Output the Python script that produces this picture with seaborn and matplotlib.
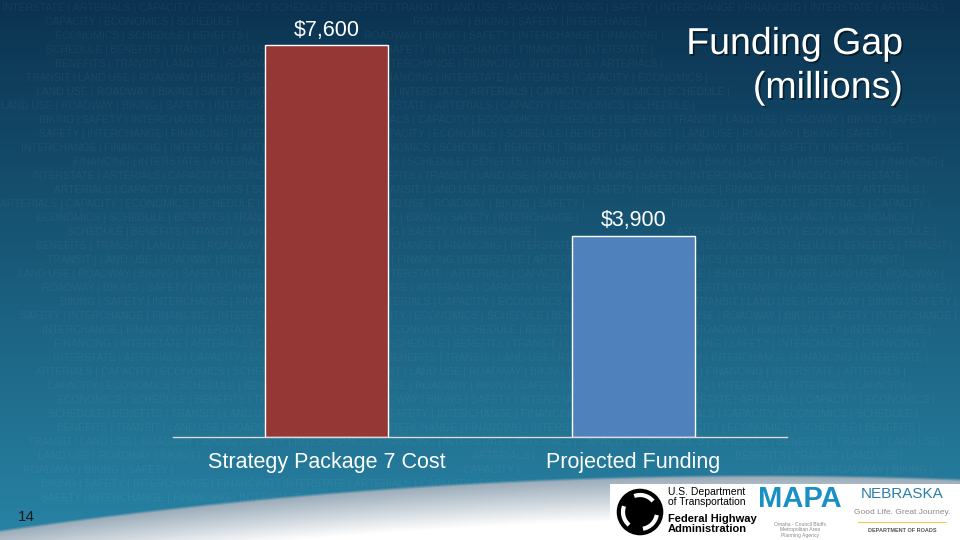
import numpy as np
import pandas as pd
import matplotlib.pyplot as plt
import matplotlib.patheffects as pe
from matplotlib.patches import Rectangle, Circle, Arc
import seaborn as sns

# data
categories = ["Strategy Package 7 Cost", "Projected Funding"]
values = [7600, 3900]
value_labels = ["$7,600", "$3,900"]
bar_colors = ["#953735", "#4f81bd"]

sns.set_theme(style="white")
plt.rcParams["font.family"] = ["Liberation Sans", "DejaVu Sans"]

fig = plt.figure(figsize=(9.6, 5.4), dpi=100)
renderer = fig.canvas.get_renderer()

# slide background (pixel coordinates)
bg = fig.add_axes([0, 0, 1, 1], zorder=0)
bg.set_xlim(0, 960)
bg.set_ylim(540, 0)
bg.axis("off")

yy, xx = np.mgrid[0:540, 0:960].astype(float)
t = (yy / 540)[..., None]
top = np.array([11, 50, 80]) / 255
bottom = np.array([40, 132, 165]) / 255
grad = top * (1 - t) + bottom * t
bg.imshow(grad, extent=(0, 960, 540, 0), aspect="auto", zorder=0)

# white swoosh at the bottom
curve = 474 + 55 * ((xx - 760) / 760) ** 2
d = yy - curve
shade = np.clip(d / 45, 0, 1)[..., None]
edge = np.array([150, 168, 182]) / 255
rgb = edge * (1 - shade) + np.ones(3) * shade
alpha = np.clip(d / 3, 0, 1)[..., None]
bg.imshow(np.concatenate([rgb, alpha], axis=2), extent=(0, 960, 540, 0),
          aspect="auto", zorder=2)

# logo strip
bg.add_patch(Rectangle((610, 484), 350, 56, facecolor="white", edgecolor="none", zorder=3))
bg.add_patch(Circle((640, 512), 24, facecolor="black", zorder=4))
for ang in [0, 120, 240]:
    bg.add_patch(Arc((640, 512), 34, 34, angle=ang, theta1=10, theta2=80,
                     color="white", lw=3, zorder=5))
bg.text(668, 497, "U.S. Department\nof Transportation", fontsize=7.5, color="black",
        va="center", ha="left", linespacing=0.95, zorder=4)
bg.text(668, 524, "Federal Highway\nAdministration", fontsize=8, fontweight="bold",
        color="black", va="center", ha="left", linespacing=0.95, zorder=4)
bg.text(800, 499, "MAPA", fontsize=21, fontweight="bold", color="#1a8fc4",
        va="center", ha="center", zorder=4)
bg.text(800, 530, "Omaha - Council Bluffs\nMetropolitan Area\nPlanning Agency",
        fontsize=3.6, color="#888888", va="center", ha="center", zorder=4)
bg.text(902, 494, "NEBRASKA", fontsize=11, color="#2a7fa8", va="center",
        ha="center", zorder=4)
bg.text(902, 513, "Good Life. Great Journey.", fontsize=6, color="#8a8a8a",
        va="center", ha="center", zorder=4)
bg.plot([858, 946], [522, 522], color="#e8c85a", lw=0.8, zorder=4)
bg.text(902, 531, "DEPARTMENT OF ROADS", fontsize=4, fontweight="bold",
        color="#555555", va="center", ha="center", zorder=4)

# chart
df = pd.DataFrame({"category": categories, "value": values})
ax = fig.add_axes([0.180, 0.191, 0.640, 0.763], zorder=5)
ax.patch.set_alpha(0)
sns.barplot(data=df, x="category", y="value", hue="category", palette=bar_colors,
            width=0.4, saturation=1, edgecolor="white", linewidth=1,
            legend=False, ax=ax)
ax.set_ylim(0, 8000)
for container, lab in zip(ax.containers, value_labels):
    ax.bar_label(container, labels=[lab], padding=3.5, color="white", fontsize=15.5)

for s in ["left", "right", "top"]:
    ax.spines[s].set_visible(False)
ax.spines["bottom"].set_color("#d9d9d9")
ax.spines["bottom"].set_linewidth(1)
ax.set_yticks([])
ax.set_xlabel("")
ax.set_ylabel("")
ax.tick_params(axis="x", length=0, pad=11, labelsize=15.5, labelcolor="white")

# title
shadow = [pe.withSimplePatchShadow(offset=(1.2, -1.2), shadow_rgbFace="black", alpha=0.5)]
fig.text(903 / 960, 1 - 44 / 540, "Funding Gap", fontsize=27, color="white",
         ha="right", va="center", path_effects=shadow)
fig.text(903 / 960, 1 - 88 / 540, "(millions)", fontsize=27, color="white",
         ha="right", va="center", path_effects=shadow)

fig.text(18 / 960, 1 - 517 / 540, "14", fontsize=11, color="#1a1a1a",
         ha="left", va="center")

# faint watermark words behind everything, left out where a real label sits
fig.canvas.draw()
keep_clear = [tx.get_window_extent(renderer).expanded(1.05, 1.3)
              for tx in fig.findobj(plt.Text)
              if tx.get_text() and tx.get_visible() and tx.axes is not bg]
keep_clear += [tx.get_window_extent(renderer) for tx in bg.texts]
words = ["INTERSTATE", "ARTERIALS", "CAPACITY", "ECONOMICS", "SCHEDULE", "BENEFITS",
         "TRANSIT", "LAND USE", "ROADWAY", "BIKING", "SAFETY", "INTERCHANGE", "FINANCING"]
for i, y in enumerate(range(8, 500, 14)):
    x = 2 - (i * 23) % 40
    k = i % len(words)
    while True:
        w = words[k % len(words)] + " |"
        k += 1
        txt = bg.text(x, y, w, fontsize=7.5, color="white", alpha=0.05,
                      va="center", ha="left", zorder=1)
        bb = txt.get_window_extent(renderer)
        if bb.x1 > 958 or bb.x0 < 0 or any(bb.overlaps(c) for c in keep_clear):
            txt.remove()
        x += bb.width + 3
        if x > 958:
            break

fig.savefig("out.png", dpi=100)
